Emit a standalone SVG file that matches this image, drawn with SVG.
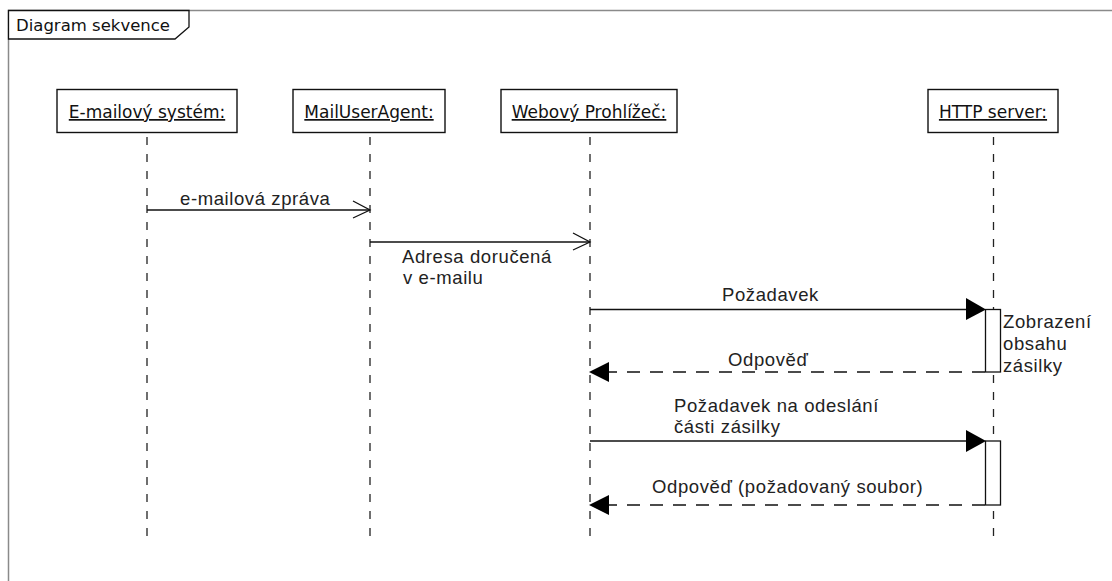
<svg xmlns="http://www.w3.org/2000/svg" width="1112" height="581" viewBox="0 0 1112 581">
<style>
.frame{fill:none;stroke:#8a8a8a;stroke-width:1.5}
.tab{fill:#fff;stroke:#111;stroke-width:1.3}
.tabtxt{font-family:"DejaVu Sans",sans-serif;font-size:16.5px;fill:#111}
.box{fill:#fff;stroke:#111;stroke-width:1.4}
.obj{font-family:"DejaVu Sans",sans-serif;font-size:17px;fill:#111;text-decoration:underline}
.life{stroke:#222;stroke-width:1.3;stroke-dasharray:8 9;fill:none}
.msg{stroke:#111;stroke-width:1.3;fill:none}
.ret{stroke:#111;stroke-width:1.3;fill:none;stroke-dasharray:13 10}
.open{stroke:#111;stroke-width:1.3;fill:none}
.head{fill:#000;stroke:none}
.lbl{font-family:"Liberation Sans",Arial,sans-serif;font-size:18.5px;letter-spacing:0.6px;fill:#222}
.act{fill:#fff;stroke:#111;stroke-width:1.3}
</style>
<g id="frame">
<path class="frame" d="M8.5,581 V10.5 H1112"/>
<path class="tab" d="M8.5,10.5 H189 V27 L175,39 H8.5 Z"/>
<text class="tabtxt" x="16" y="31">Diagram sekvence</text>
</g>
<g id="lifeline-email">
<rect class="box" x="57" y="89.5" width="180" height="43"/>
<text class="obj" x="147" y="118" text-anchor="middle">E-mailový systém:</text>
<line class="life" x1="147" y1="137" x2="147" y2="538"/>
</g>
<g id="lifeline-mua">
<rect class="box" x="293" y="89.5" width="152" height="43"/>
<text class="obj" x="369" y="118" text-anchor="middle">MailUserAgent:</text>
<line class="life" x1="370" y1="137" x2="370" y2="538"/>
</g>
<g id="lifeline-browser">
<rect class="box" x="501" y="89.5" width="176" height="43"/>
<text class="obj" x="589" y="118" text-anchor="middle">Webový Prohlížeč:</text>
<line class="life" x1="590" y1="137" x2="590" y2="538"/>
</g>
<g id="lifeline-http">
<rect class="box" x="928" y="89.5" width="130" height="43"/>
<text class="obj" x="993" y="118" text-anchor="middle">HTTP server:</text>
<line class="life" x1="993.5" y1="137" x2="993.5" y2="538"/>
</g>
<g id="activation-1">
<rect class="act" x="985.5" y="309.5" width="15" height="62.5"/>
<text class="lbl"><tspan x="1003" y="328">Zobrazení</tspan><tspan x="1003" y="350">obsahu</tspan><tspan x="1003" y="372">zásilky</tspan></text>
</g>
<g id="activation-2">
<rect class="act" x="985.5" y="441" width="15" height="64"/>
</g>
<g id="connectors">
<line class="msg" x1="147" y1="210" x2="370" y2="210"/>
<path class="open" d="M353,201 L370,210 L353,218"/>
<text class="lbl" x="180" y="205">e-mailová zpráva</text>
<line class="msg" x1="370" y1="242" x2="590" y2="242"/>
<path class="open" d="M573,233 L590,242 L573,250"/>
<text class="lbl"><tspan x="402" y="263">Adresa doručená</tspan><tspan x="403" y="284">v e-mailu</tspan></text>
<line class="msg" x1="590" y1="309.5" x2="970" y2="309.5"/>
<path class="head" d="M966,298 L986,309.5 L966,320 Z"/>
<text class="lbl" x="722" y="301">Požadavek</text>
<line class="ret" x1="985" y1="372" x2="605" y2="372"/>
<path class="head" d="M609,362 L589,372 L609,382 Z"/>
<text class="lbl" x="728" y="366">Odpověď</text>
<line class="msg" x1="590" y1="441" x2="970" y2="441"/>
<path class="head" d="M966,430 L986,441 L966,452 Z"/>
<text class="lbl"><tspan x="674" y="412">Požadavek na odeslání</tspan><tspan x="674" y="433">části zásilky</tspan></text>
<line class="ret" x1="985" y1="505" x2="605" y2="505"/>
<path class="head" d="M609,495 L589,505 L609,515 Z"/>
<text class="lbl" x="652" y="493">Odpověď (požadovaný soubor)</text>
</g>
</svg>
